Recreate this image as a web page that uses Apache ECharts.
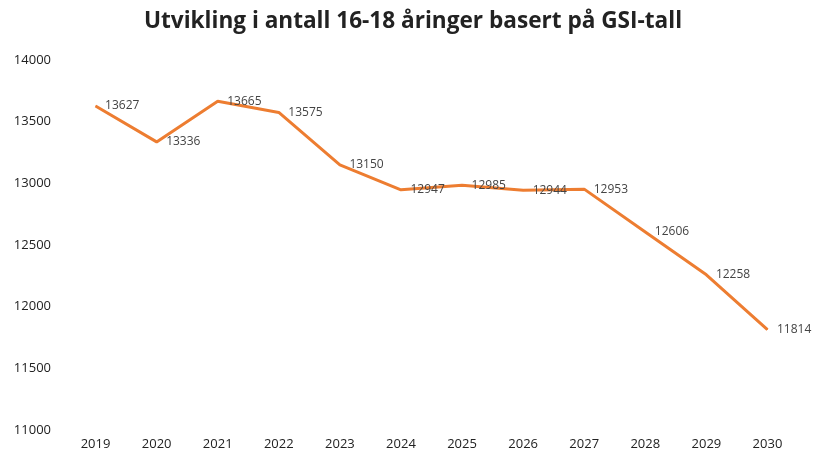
<!DOCTYPE html>
<html>
<head>
<meta charset="utf-8">
<script src="https://cdn.jsdelivr.net/npm/echarts@6/dist/echarts.min.js"></script>
<style>
  html, body { margin: 0; padding: 0; background: #fff; }
  #chart { width: 813px; height: 452px; }
</style>
</head>
<body>
<div id="chart"></div>
<script>
// data
const years = ["2019", "2020", "2021", "2022", "2023", "2024", "2025", "2026", "2027", "2028", "2029", "2030"];
const antall = [13627, 13336, 13665, 13575, 13150, 12947, 12985, 12944, 12953, 12606, 12258, 11814];
const yTicks = [11000, 11500, 12000, 12500, 13000, 13500, 14000];

const chart = echarts.init(document.getElementById("chart"));

chart.setOption({
  animation: false,
  title: {
    text: "Utvikling i antall 16-18 åringer basert på GSI-tall",
    left: 408,
    textAlign: "center",
    top: 5,
    textStyle: {
      fontFamily: "Open Sans",
      fontWeight: "bold",
      fontSize: 22.6,
      color: "#222"
    }
  },
  grid: {
    left: 65,
    right: 15,
    top: 60,
    bottom: 22
  },
  xAxis: {
    type: "category",
    data: years,
    boundaryGap: true,
    axisLine: { show: false },
    axisTick: { show: false },
    axisLabel: {
      margin: 8,
      fontFamily: "Open Sans",
      fontSize: 13,
      color: "#222"
    }
  },
  yAxis: {
    type: "value",
    min: yTicks[0],
    max: yTicks[yTicks.length - 1],
    interval: 500,
    splitLine: { show: false },
    axisLine: { show: false },
    axisTick: { show: false },
    axisLabel: {
      margin: 14,
      fontFamily: "Open Sans",
      fontSize: 13,
      color: "#222",
      formatter: v => String(v)
    }
  },
  series: [
    {
      name: "Antall",
      type: "line",
      data: antall,
      symbol: "circle",
      symbolSize: 1,
      showSymbol: true,
      lineStyle: { color: "#ED7D31", width: 3 },
      itemStyle: { color: "#ED7D31" },
      label: {
        show: true,
        position: "right",
        distance: 9,
        fontFamily: "Open Sans",
        fontSize: 12,
        color: "#444",
        formatter: p => String(p.value)
      }
    }
  ]
});
</script>
</body>
</html>
